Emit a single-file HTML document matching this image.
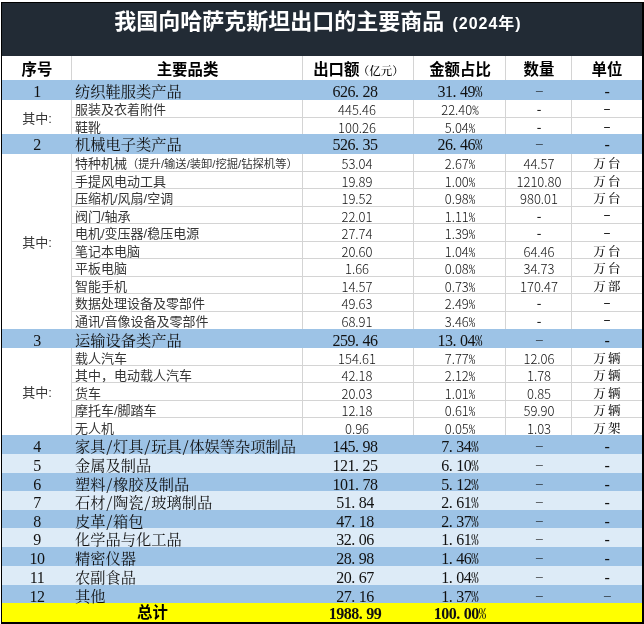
<!DOCTYPE html><html lang="zh-CN"><head><meta charset="utf-8"><title>我国向哈萨克斯坦出口的主要商品</title><style>
html,body{margin:0;padding:0;background:#fff}
body{width:644px;height:624px;position:relative;overflow:hidden;color:#111}
.a{position:absolute;white-space:nowrap;overflow:visible;box-sizing:border-box}
.c{text-align:center}
.cat{font-family:"Noto Serif CJK SC","Liberation Serif",serif;font-feature-settings:"hwid";font-size:15.25px}
.sub{font-family:"Liberation Sans","Noto Sans CJK SC",sans-serif;font-size:13px;font-weight:400;color:#363636}
.num{font-weight:300;color:#111}
.sub .sm{font-size:11.3px}
.qz{font-size:13px}
.cn{font-family:"Liberation Serif","Noto Serif CJK SC",serif;font-feature-settings:normal;font-size:16px;letter-spacing:-.5px}
.dot{margin-right:.25em}
.d1,.d2,.d3,.d4{position:relative;top:-1px;line-height:0}
.d2{top:-2.5px}
.d1,.d2{font-weight:500;color:#222}
.d3{font-size:13.5px;top:-2.6px}
.d4{font-size:13.5px;top:-3.1px}
.pq{font-family:"Noto Serif CJK SC","Liberation Serif",serif;font-feature-settings:"hwid";line-height:0;font-size:14.7px;font-weight:500;letter-spacing:0}
.num{font-family:"Noto Sans CJK SC","Liberation Sans",sans-serif}
.pc{font-feature-settings:"hwid"}
.hd{font-family:"Liberation Sans","Noto Sans CJK SC",sans-serif;font-size:15.4px;font-weight:700;color:#000}
.hd .sm{font-size:11.5px;margin-left:-1.5px;font-weight:500;font-family:"Noto Serif CJK SC","Liberation Serif",serif}
.tot{font-size:15.4px}
.b{font-weight:700}
.kai{font-family:"Noto Serif CJK SC","Liberation Serif",serif;font-size:12.5px;font-weight:500;letter-spacing:2.2px;padding-left:2px;color:#111;margin-top:-1px}
.gl{position:absolute;background:#d4d4d4}
.title{left:2px;top:3px;width:640px;padding-right:8px;height:53px;background:#222b35;color:#fff;font-family:"Liberation Sans","Noto Sans CJK SC",sans-serif;font-weight:700;font-size:22px;line-height:37px}
.title span{font-size:16px;letter-spacing:1px;margin-left:2px}

</style></head><body>
<div class="a" style="left:1px;top:2px;width:643px;height:622px;background:#000"></div>
<div class="a" style="left:2px;top:56px;width:640px;height:566px;background:#fff"></div>
<div class="a" style="left:2px;top:80px;width:640px;height:20px;background:#9dc3e6"></div>
<div class="a" style="left:2px;top:134px;width:640px;height:20px;background:#9dc3e6"></div>
<div class="a" style="left:2px;top:329px;width:640px;height:19px;background:#9dc3e6"></div>
<div class="a" style="left:2px;top:435px;width:640px;height:19px;background:#9dc3e6"></div>
<div class="a" style="left:2px;top:454px;width:640px;height:19px;background:#ddebf7"></div>
<div class="a" style="left:2px;top:473px;width:640px;height:18px;background:#9dc3e6"></div>
<div class="a" style="left:2px;top:491px;width:640px;height:19px;background:#ddebf7"></div>
<div class="a" style="left:2px;top:510px;width:640px;height:18px;background:#9dc3e6"></div>
<div class="a" style="left:2px;top:528px;width:640px;height:19px;background:#ddebf7"></div>
<div class="a" style="left:2px;top:547px;width:640px;height:19px;background:#9dc3e6"></div>
<div class="a" style="left:2px;top:566px;width:640px;height:19px;background:#ddebf7"></div>
<div class="a" style="left:2px;top:585px;width:640px;height:18px;background:#9dc3e6"></div>
<div class="a" style="left:2px;top:603px;width:640px;height:19px;background:#ffff00"></div>
<div class="a c title">我国向哈萨克斯坦出口的主要商品 <span>(2024年)</span></div>
<div class="gl" style="left:72px;top:117px;width:570px;height:1px"></div>
<div class="gl" style="left:71px;top:100px;width:1px;height:34px"></div>
<div class="gl" style="left:302px;top:100px;width:1px;height:34px"></div>
<div class="gl" style="left:413px;top:100px;width:1px;height:34px"></div>
<div class="gl" style="left:505px;top:100px;width:1px;height:34px"></div>
<div class="gl" style="left:571px;top:100px;width:1px;height:34px"></div>
<div class="gl" style="left:72px;top:171px;width:570px;height:1px"></div>
<div class="gl" style="left:72px;top:188px;width:570px;height:1px"></div>
<div class="gl" style="left:72px;top:206px;width:570px;height:1px"></div>
<div class="gl" style="left:72px;top:223px;width:570px;height:1px"></div>
<div class="gl" style="left:72px;top:241px;width:570px;height:1px"></div>
<div class="gl" style="left:72px;top:258px;width:570px;height:1px"></div>
<div class="gl" style="left:72px;top:276px;width:570px;height:1px"></div>
<div class="gl" style="left:72px;top:293px;width:570px;height:1px"></div>
<div class="gl" style="left:72px;top:311px;width:570px;height:1px"></div>
<div class="gl" style="left:71px;top:154px;width:1px;height:175px"></div>
<div class="gl" style="left:302px;top:154px;width:1px;height:175px"></div>
<div class="gl" style="left:413px;top:154px;width:1px;height:175px"></div>
<div class="gl" style="left:505px;top:154px;width:1px;height:175px"></div>
<div class="gl" style="left:571px;top:154px;width:1px;height:175px"></div>
<div class="gl" style="left:72px;top:365px;width:570px;height:1px"></div>
<div class="gl" style="left:72px;top:382px;width:570px;height:1px"></div>
<div class="gl" style="left:72px;top:400px;width:570px;height:1px"></div>
<div class="gl" style="left:72px;top:417px;width:570px;height:1px"></div>
<div class="gl" style="left:71px;top:348px;width:1px;height:87px"></div>
<div class="gl" style="left:302px;top:348px;width:1px;height:87px"></div>
<div class="gl" style="left:413px;top:348px;width:1px;height:87px"></div>
<div class="gl" style="left:505px;top:348px;width:1px;height:87px"></div>
<div class="gl" style="left:571px;top:348px;width:1px;height:87px"></div>
<div class="gl" style="left:71px;top:56px;width:1px;height:24px"></div>
<div class="gl" style="left:302px;top:56px;width:1px;height:24px"></div>
<div class="gl" style="left:413px;top:56px;width:1px;height:24px"></div>
<div class="gl" style="left:505px;top:56px;width:1px;height:24px"></div>
<div class="gl" style="left:571px;top:56px;width:1px;height:24px"></div>
<div class="a c hd" style="left:2px;top:56px;width:70px;height:27px;line-height:27px">序号</div>
<div class="a c hd" style="left:72px;top:56px;width:231px;height:27px;line-height:27px">主要品类</div>
<div class="a c hd" style="left:303px;top:56px;width:111px;height:27px;line-height:27px">出口额<span class="sm">（亿元）</span></div>
<div class="a c hd" style="left:414px;top:56px;width:92px;height:27px;line-height:27px">金额占比</div>
<div class="a c hd" style="left:506px;top:56px;width:66px;height:27px;line-height:27px">数量</div>
<div class="a c hd" style="left:572px;top:56px;width:70px;height:27px;line-height:27px">单位</div>
<div class="a c cat cn" style="left:2px;top:80px;width:70px;height:23.6px;line-height:23.6px">1</div>
<div class="a cat" style="left:75px;top:80px;width:228px;height:20.6px;line-height:20.6px">纺织鞋服类产品</div>
<div class="a c cat cn" style="left:303px;top:80px;width:111px;height:23.6px;line-height:23.6px;padding-right:7px">626<span class="dot">.</span>28</div>
<div class="a c cat cn" style="left:414px;top:80px;width:92px;height:23.6px;line-height:23.6px">31<span class="dot">.</span>49<span class="pq">%</span></div>
<div class="a c cat cn" style="left:506px;top:80px;width:66px;height:23.6px;line-height:23.6px"><span class="d3">–</span></div>
<div class="a c cat cn" style="left:572px;top:80px;width:70px;height:23.6px;line-height:23.6px">-</div>
<div class="a sub" style="left:75px;top:100px;width:228px;height:20.5px;line-height:20.5px">服装及衣着附件</div>
<div class="a c sub num" style="left:303px;top:100px;width:111px;height:20.5px;line-height:20.5px;padding-right:3px">445.46</div>
<div class="a c sub num" style="left:414px;top:100px;width:92px;height:20.5px;line-height:20.5px">22.40<span class="pc">%</span></div>
<div class="a c sub num" style="left:506px;top:100px;width:66px;height:20.5px;line-height:20.5px"><span class="d1">-</span></div>
<div class="a c sub num" style="left:572px;top:100px;width:70px;height:20.5px;line-height:20.5px"><span class="d2">–</span></div>
<div class="a sub" style="left:75px;top:118px;width:228px;height:19.3px;line-height:19.3px">鞋靴</div>
<div class="a c sub num" style="left:303px;top:118px;width:111px;height:19.3px;line-height:19.3px;padding-right:3px">100.26</div>
<div class="a c sub num" style="left:414px;top:118px;width:92px;height:19.3px;line-height:19.3px">5.04<span class="pc">%</span></div>
<div class="a c sub num" style="left:506px;top:118px;width:66px;height:19.3px;line-height:19.3px"><span class="d1">-</span></div>
<div class="a c sub num" style="left:572px;top:118px;width:70px;height:19.3px;line-height:19.3px"><span class="d2">–</span></div>
<div class="a c cat cn" style="left:2px;top:134px;width:70px;height:22.6px;line-height:22.6px">2</div>
<div class="a cat" style="left:75px;top:134px;width:228px;height:19.6px;line-height:19.6px">机械电子类产品</div>
<div class="a c cat cn" style="left:303px;top:134px;width:111px;height:22.6px;line-height:22.6px;padding-right:7px">526<span class="dot">.</span>35</div>
<div class="a c cat cn" style="left:414px;top:134px;width:92px;height:22.6px;line-height:22.6px">26<span class="dot">.</span>46<span class="pq">%</span></div>
<div class="a c cat cn" style="left:506px;top:134px;width:66px;height:22.6px;line-height:22.6px"><span class="d3">–</span></div>
<div class="a c cat cn" style="left:572px;top:134px;width:70px;height:22.6px;line-height:22.6px">-</div>
<div class="a sub" style="left:75px;top:154px;width:228px;height:20.9px;line-height:20.9px">特种机械<span class="sm">（提升/输送/装卸/挖掘/钻探机等）</span></div>
<div class="a c sub num" style="left:303px;top:154px;width:111px;height:20.9px;line-height:20.9px;padding-right:3px">53.04</div>
<div class="a c sub num" style="left:414px;top:154px;width:92px;height:20.9px;line-height:20.9px">2.67<span class="pc">%</span></div>
<div class="a c sub num" style="left:506px;top:154px;width:66px;height:20.9px;line-height:20.9px">44.57</div>
<div class="a c sub kai" style="left:572px;top:154px;width:70px;height:20.9px;line-height:20.9px">万台</div>
<div class="a sub" style="left:75px;top:171.5px;width:228px;height:20.9px;line-height:20.9px">手提风电动工具</div>
<div class="a c sub num" style="left:303px;top:171.5px;width:111px;height:20.9px;line-height:20.9px;padding-right:3px">19.89</div>
<div class="a c sub num" style="left:414px;top:171.5px;width:92px;height:20.9px;line-height:20.9px">1.00<span class="pc">%</span></div>
<div class="a c sub num" style="left:506px;top:171.5px;width:66px;height:20.9px;line-height:20.9px">1210.80</div>
<div class="a c sub kai" style="left:572px;top:171.5px;width:70px;height:20.9px;line-height:20.9px">万台</div>
<div class="a sub" style="left:75px;top:189px;width:228px;height:20.9px;line-height:20.9px">压缩机/风扇/空调</div>
<div class="a c sub num" style="left:303px;top:189px;width:111px;height:20.9px;line-height:20.9px;padding-right:3px">19.52</div>
<div class="a c sub num" style="left:414px;top:189px;width:92px;height:20.9px;line-height:20.9px">0.98<span class="pc">%</span></div>
<div class="a c sub num" style="left:506px;top:189px;width:66px;height:20.9px;line-height:20.9px">980.01</div>
<div class="a c sub kai" style="left:572px;top:189px;width:70px;height:20.9px;line-height:20.9px">万台</div>
<div class="a sub" style="left:75px;top:206.5px;width:228px;height:20.9px;line-height:20.9px">阀门/轴承</div>
<div class="a c sub num" style="left:303px;top:206.5px;width:111px;height:20.9px;line-height:20.9px;padding-right:3px">22.01</div>
<div class="a c sub num" style="left:414px;top:206.5px;width:92px;height:20.9px;line-height:20.9px">1.11<span class="pc">%</span></div>
<div class="a c sub num" style="left:506px;top:206.5px;width:66px;height:20.9px;line-height:20.9px"><span class="d1">-</span></div>
<div class="a c sub num" style="left:572px;top:206.5px;width:70px;height:20.9px;line-height:20.9px"><span class="d2">–</span></div>
<div class="a sub" style="left:75px;top:224px;width:228px;height:20.9px;line-height:20.9px">电机/变压器/稳压电源</div>
<div class="a c sub num" style="left:303px;top:224px;width:111px;height:20.9px;line-height:20.9px;padding-right:3px">27.74</div>
<div class="a c sub num" style="left:414px;top:224px;width:92px;height:20.9px;line-height:20.9px">1.39<span class="pc">%</span></div>
<div class="a c sub num" style="left:506px;top:224px;width:66px;height:20.9px;line-height:20.9px"><span class="d1">-</span></div>
<div class="a c sub num" style="left:572px;top:224px;width:70px;height:20.9px;line-height:20.9px"><span class="d2">–</span></div>
<div class="a sub" style="left:75px;top:241.5px;width:228px;height:20.9px;line-height:20.9px">笔记本电脑</div>
<div class="a c sub num" style="left:303px;top:241.5px;width:111px;height:20.9px;line-height:20.9px;padding-right:3px">20.60</div>
<div class="a c sub num" style="left:414px;top:241.5px;width:92px;height:20.9px;line-height:20.9px">1.04<span class="pc">%</span></div>
<div class="a c sub num" style="left:506px;top:241.5px;width:66px;height:20.9px;line-height:20.9px">64.46</div>
<div class="a c sub kai" style="left:572px;top:241.5px;width:70px;height:20.9px;line-height:20.9px">万台</div>
<div class="a sub" style="left:75px;top:259px;width:228px;height:20.9px;line-height:20.9px">平板电脑</div>
<div class="a c sub num" style="left:303px;top:259px;width:111px;height:20.9px;line-height:20.9px;padding-right:3px">1.66</div>
<div class="a c sub num" style="left:414px;top:259px;width:92px;height:20.9px;line-height:20.9px">0.08<span class="pc">%</span></div>
<div class="a c sub num" style="left:506px;top:259px;width:66px;height:20.9px;line-height:20.9px">34.73</div>
<div class="a c sub kai" style="left:572px;top:259px;width:70px;height:20.9px;line-height:20.9px">万台</div>
<div class="a sub" style="left:75px;top:276.5px;width:228px;height:20.9px;line-height:20.9px">智能手机</div>
<div class="a c sub num" style="left:303px;top:276.5px;width:111px;height:20.9px;line-height:20.9px;padding-right:3px">14.57</div>
<div class="a c sub num" style="left:414px;top:276.5px;width:92px;height:20.9px;line-height:20.9px">0.73<span class="pc">%</span></div>
<div class="a c sub num" style="left:506px;top:276.5px;width:66px;height:20.9px;line-height:20.9px">170.47</div>
<div class="a c sub kai" style="left:572px;top:276.5px;width:70px;height:20.9px;line-height:20.9px">万部</div>
<div class="a sub" style="left:75px;top:294px;width:228px;height:20.9px;line-height:20.9px">数据处理设备及零部件</div>
<div class="a c sub num" style="left:303px;top:294px;width:111px;height:20.9px;line-height:20.9px;padding-right:3px">49.63</div>
<div class="a c sub num" style="left:414px;top:294px;width:92px;height:20.9px;line-height:20.9px">2.49<span class="pc">%</span></div>
<div class="a c sub num" style="left:506px;top:294px;width:66px;height:20.9px;line-height:20.9px"><span class="d1">-</span></div>
<div class="a c sub num" style="left:572px;top:294px;width:70px;height:20.9px;line-height:20.9px"><span class="d2">–</span></div>
<div class="a sub" style="left:75px;top:311.5px;width:228px;height:20.9px;line-height:20.9px">通讯/音像设备及零部件</div>
<div class="a c sub num" style="left:303px;top:311.5px;width:111px;height:20.9px;line-height:20.9px;padding-right:3px">68.91</div>
<div class="a c sub num" style="left:414px;top:311.5px;width:92px;height:20.9px;line-height:20.9px">3.46<span class="pc">%</span></div>
<div class="a c sub num" style="left:506px;top:311.5px;width:66px;height:20.9px;line-height:20.9px"><span class="d1">-</span></div>
<div class="a c sub num" style="left:572px;top:311.5px;width:70px;height:20.9px;line-height:20.9px"><span class="d2">–</span></div>
<div class="a c cat cn" style="left:2px;top:329px;width:70px;height:23px;line-height:23px">3</div>
<div class="a cat" style="left:75px;top:329px;width:228px;height:20px;line-height:20px">运输设备类产品</div>
<div class="a c cat cn" style="left:303px;top:329px;width:111px;height:23px;line-height:23px;padding-right:7px">259<span class="dot">.</span>46</div>
<div class="a c cat cn" style="left:414px;top:329px;width:92px;height:23px;line-height:23px">13<span class="dot">.</span>04<span class="pq">%</span></div>
<div class="a c cat cn" style="left:506px;top:329px;width:66px;height:23px;line-height:23px"><span class="d3">–</span></div>
<div class="a c cat cn" style="left:572px;top:329px;width:70px;height:23px;line-height:23px">-</div>
<div class="a sub" style="left:75px;top:348px;width:228px;height:22.7px;line-height:22.7px">载人汽车</div>
<div class="a c sub num" style="left:303px;top:348px;width:111px;height:22.7px;line-height:22.7px;padding-right:3px">154.61</div>
<div class="a c sub num" style="left:414px;top:348px;width:92px;height:22.7px;line-height:22.7px">7.77<span class="pc">%</span></div>
<div class="a c sub num" style="left:506px;top:348px;width:66px;height:22.7px;line-height:22.7px">12.06</div>
<div class="a c sub kai" style="left:572px;top:348px;width:70px;height:22.7px;line-height:22.7px">万辆</div>
<div class="a sub" style="left:75px;top:365.4px;width:228px;height:22.7px;line-height:22.7px">其中，电动载人汽车</div>
<div class="a c sub num" style="left:303px;top:365.4px;width:111px;height:22.7px;line-height:22.7px;padding-right:3px">42.18</div>
<div class="a c sub num" style="left:414px;top:365.4px;width:92px;height:22.7px;line-height:22.7px">2.12<span class="pc">%</span></div>
<div class="a c sub num" style="left:506px;top:365.4px;width:66px;height:22.7px;line-height:22.7px">1.78</div>
<div class="a c sub kai" style="left:572px;top:365.4px;width:70px;height:22.7px;line-height:22.7px">万辆</div>
<div class="a sub" style="left:75px;top:382.8px;width:228px;height:22.7px;line-height:22.7px">货车</div>
<div class="a c sub num" style="left:303px;top:382.8px;width:111px;height:22.7px;line-height:22.7px;padding-right:3px">20.03</div>
<div class="a c sub num" style="left:414px;top:382.8px;width:92px;height:22.7px;line-height:22.7px">1.01<span class="pc">%</span></div>
<div class="a c sub num" style="left:506px;top:382.8px;width:66px;height:22.7px;line-height:22.7px">0.85</div>
<div class="a c sub kai" style="left:572px;top:382.8px;width:70px;height:22.7px;line-height:22.7px">万辆</div>
<div class="a sub" style="left:75px;top:400.2px;width:228px;height:22.7px;line-height:22.7px">摩托车/脚踏车</div>
<div class="a c sub num" style="left:303px;top:400.2px;width:111px;height:22.7px;line-height:22.7px;padding-right:3px">12.18</div>
<div class="a c sub num" style="left:414px;top:400.2px;width:92px;height:22.7px;line-height:22.7px">0.61<span class="pc">%</span></div>
<div class="a c sub num" style="left:506px;top:400.2px;width:66px;height:22.7px;line-height:22.7px">59.90</div>
<div class="a c sub kai" style="left:572px;top:400.2px;width:70px;height:22.7px;line-height:22.7px">万辆</div>
<div class="a sub" style="left:75px;top:417.6px;width:228px;height:22.7px;line-height:22.7px">无人机</div>
<div class="a c sub num" style="left:303px;top:417.6px;width:111px;height:22.7px;line-height:22.7px;padding-right:3px">0.96</div>
<div class="a c sub num" style="left:414px;top:417.6px;width:92px;height:22.7px;line-height:22.7px">0.05<span class="pc">%</span></div>
<div class="a c sub num" style="left:506px;top:417.6px;width:66px;height:22.7px;line-height:22.7px">1.03</div>
<div class="a c sub kai" style="left:572px;top:417.6px;width:70px;height:22.7px;line-height:22.7px">万架</div>
<div class="a c cat cn" style="left:2px;top:435px;width:70px;height:24px;line-height:24px">4</div>
<div class="a cat" style="left:75px;top:435px;width:228px;height:21px;line-height:21px">家具/灯具/玩具/体娱等杂项制品</div>
<div class="a c cat cn" style="left:303px;top:435px;width:111px;height:24px;line-height:24px;padding-right:7px">145<span class="dot">.</span>98</div>
<div class="a c cat cn" style="left:414px;top:435px;width:92px;height:24px;line-height:24px">7<span class="dot">.</span>34<span class="pq">%</span></div>
<div class="a c cat cn" style="left:506px;top:435px;width:66px;height:24px;line-height:24px"><span class="d4">–</span></div>
<div class="a c cat cn" style="left:572px;top:435px;width:70px;height:24px;line-height:24px">-</div>
<div class="a c cat cn" style="left:2px;top:454px;width:70px;height:24px;line-height:24px">5</div>
<div class="a cat" style="left:75px;top:454px;width:228px;height:21px;line-height:21px">金属及制品</div>
<div class="a c cat cn" style="left:303px;top:454px;width:111px;height:24px;line-height:24px;padding-right:7px">121<span class="dot">.</span>25</div>
<div class="a c cat cn" style="left:414px;top:454px;width:92px;height:24px;line-height:24px">6<span class="dot">.</span>10<span class="pq">%</span></div>
<div class="a c cat cn" style="left:506px;top:454px;width:66px;height:24px;line-height:24px"><span class="d4">–</span></div>
<div class="a c cat cn" style="left:572px;top:454px;width:70px;height:24px;line-height:24px">-</div>
<div class="a c cat cn" style="left:2px;top:473px;width:70px;height:24px;line-height:24px">6</div>
<div class="a cat" style="left:75px;top:473px;width:228px;height:21px;line-height:21px">塑料/橡胶及制品</div>
<div class="a c cat cn" style="left:303px;top:473px;width:111px;height:24px;line-height:24px;padding-right:7px">101<span class="dot">.</span>78</div>
<div class="a c cat cn" style="left:414px;top:473px;width:92px;height:24px;line-height:24px">5<span class="dot">.</span>12<span class="pq">%</span></div>
<div class="a c cat cn" style="left:506px;top:473px;width:66px;height:24px;line-height:24px"><span class="d4">–</span></div>
<div class="a c cat cn" style="left:572px;top:473px;width:70px;height:24px;line-height:24px">-</div>
<div class="a c cat cn" style="left:2px;top:491px;width:70px;height:24px;line-height:24px">7</div>
<div class="a cat" style="left:75px;top:491px;width:228px;height:21px;line-height:21px">石材/陶瓷/玻璃制品</div>
<div class="a c cat cn" style="left:303px;top:491px;width:111px;height:24px;line-height:24px;padding-right:7px">51<span class="dot">.</span>84</div>
<div class="a c cat cn" style="left:414px;top:491px;width:92px;height:24px;line-height:24px">2<span class="dot">.</span>61<span class="pq">%</span></div>
<div class="a c cat cn" style="left:506px;top:491px;width:66px;height:24px;line-height:24px"><span class="d4">–</span></div>
<div class="a c cat cn" style="left:572px;top:491px;width:70px;height:24px;line-height:24px">-</div>
<div class="a c cat cn" style="left:2px;top:510px;width:70px;height:24px;line-height:24px">8</div>
<div class="a cat" style="left:75px;top:510px;width:228px;height:21px;line-height:21px">皮革/箱包</div>
<div class="a c cat cn" style="left:303px;top:510px;width:111px;height:24px;line-height:24px;padding-right:7px">47<span class="dot">.</span>18</div>
<div class="a c cat cn" style="left:414px;top:510px;width:92px;height:24px;line-height:24px">2<span class="dot">.</span>37<span class="pq">%</span></div>
<div class="a c cat cn" style="left:506px;top:510px;width:66px;height:24px;line-height:24px"><span class="d4">–</span></div>
<div class="a c cat cn" style="left:572px;top:510px;width:70px;height:24px;line-height:24px">-</div>
<div class="a c cat cn" style="left:2px;top:528px;width:70px;height:24px;line-height:24px">9</div>
<div class="a cat" style="left:75px;top:528px;width:228px;height:21px;line-height:21px">化学品与化工品</div>
<div class="a c cat cn" style="left:303px;top:528px;width:111px;height:24px;line-height:24px;padding-right:7px">32<span class="dot">.</span>06</div>
<div class="a c cat cn" style="left:414px;top:528px;width:92px;height:24px;line-height:24px">1<span class="dot">.</span>61<span class="pq">%</span></div>
<div class="a c cat cn" style="left:506px;top:528px;width:66px;height:24px;line-height:24px"><span class="d4">–</span></div>
<div class="a c cat cn" style="left:572px;top:528px;width:70px;height:24px;line-height:24px">-</div>
<div class="a c cat cn" style="left:2px;top:547px;width:70px;height:24px;line-height:24px">10</div>
<div class="a cat" style="left:75px;top:547px;width:228px;height:21px;line-height:21px">精密仪器</div>
<div class="a c cat cn" style="left:303px;top:547px;width:111px;height:24px;line-height:24px;padding-right:7px">28<span class="dot">.</span>98</div>
<div class="a c cat cn" style="left:414px;top:547px;width:92px;height:24px;line-height:24px">1<span class="dot">.</span>46<span class="pq">%</span></div>
<div class="a c cat cn" style="left:506px;top:547px;width:66px;height:24px;line-height:24px"><span class="d4">–</span></div>
<div class="a c cat cn" style="left:572px;top:547px;width:70px;height:24px;line-height:24px">-</div>
<div class="a c cat cn" style="left:2px;top:566px;width:70px;height:24px;line-height:24px">11</div>
<div class="a cat" style="left:75px;top:566px;width:228px;height:21px;line-height:21px">农副食品</div>
<div class="a c cat cn" style="left:303px;top:566px;width:111px;height:24px;line-height:24px;padding-right:7px">20<span class="dot">.</span>67</div>
<div class="a c cat cn" style="left:414px;top:566px;width:92px;height:24px;line-height:24px">1<span class="dot">.</span>04<span class="pq">%</span></div>
<div class="a c cat cn" style="left:506px;top:566px;width:66px;height:24px;line-height:24px"><span class="d4">–</span></div>
<div class="a c cat cn" style="left:572px;top:566px;width:70px;height:24px;line-height:24px">-</div>
<div class="a c cat cn" style="left:2px;top:585px;width:70px;height:24px;line-height:24px">12</div>
<div class="a cat" style="left:75px;top:585px;width:228px;height:21px;line-height:21px">其他</div>
<div class="a c cat cn" style="left:303px;top:585px;width:111px;height:24px;line-height:24px;padding-right:7px">27<span class="dot">.</span>16</div>
<div class="a c cat cn" style="left:414px;top:585px;width:92px;height:24px;line-height:24px">1<span class="dot">.</span>37<span class="pq">%</span></div>
<div class="a c cat cn" style="left:506px;top:585px;width:66px;height:24px;line-height:24px"><span class="d4">–</span></div>
<div class="a c cat cn" style="left:572px;top:585px;width:70px;height:24px;line-height:24px"><span class="d4">–</span></div>
<div class="a c sub qz" style="left:2px;top:100px;width:70px;height:37px;line-height:37px">其中:</div>
<div class="a c sub qz" style="left:2px;top:154px;width:70px;height:178px;line-height:178px">其中:</div>
<div class="a c sub qz" style="left:2px;top:348px;width:70px;height:90px;line-height:90px">其中:</div>
<div class="a c hd tot" style="left:2px;top:603px;width:301px;height:20px;line-height:20px">总计</div>
<div class="a c cat cn b" style="left:303px;top:603px;width:111px;height:22px;line-height:22px;padding-right:7px">1988<span class="dot">.</span>99</div>
<div class="a c cat cn b" style="left:414px;top:603px;width:92px;height:22px;line-height:22px">100<span class="dot">.</span>00<span class="pq">%</span></div>
</body></html>
